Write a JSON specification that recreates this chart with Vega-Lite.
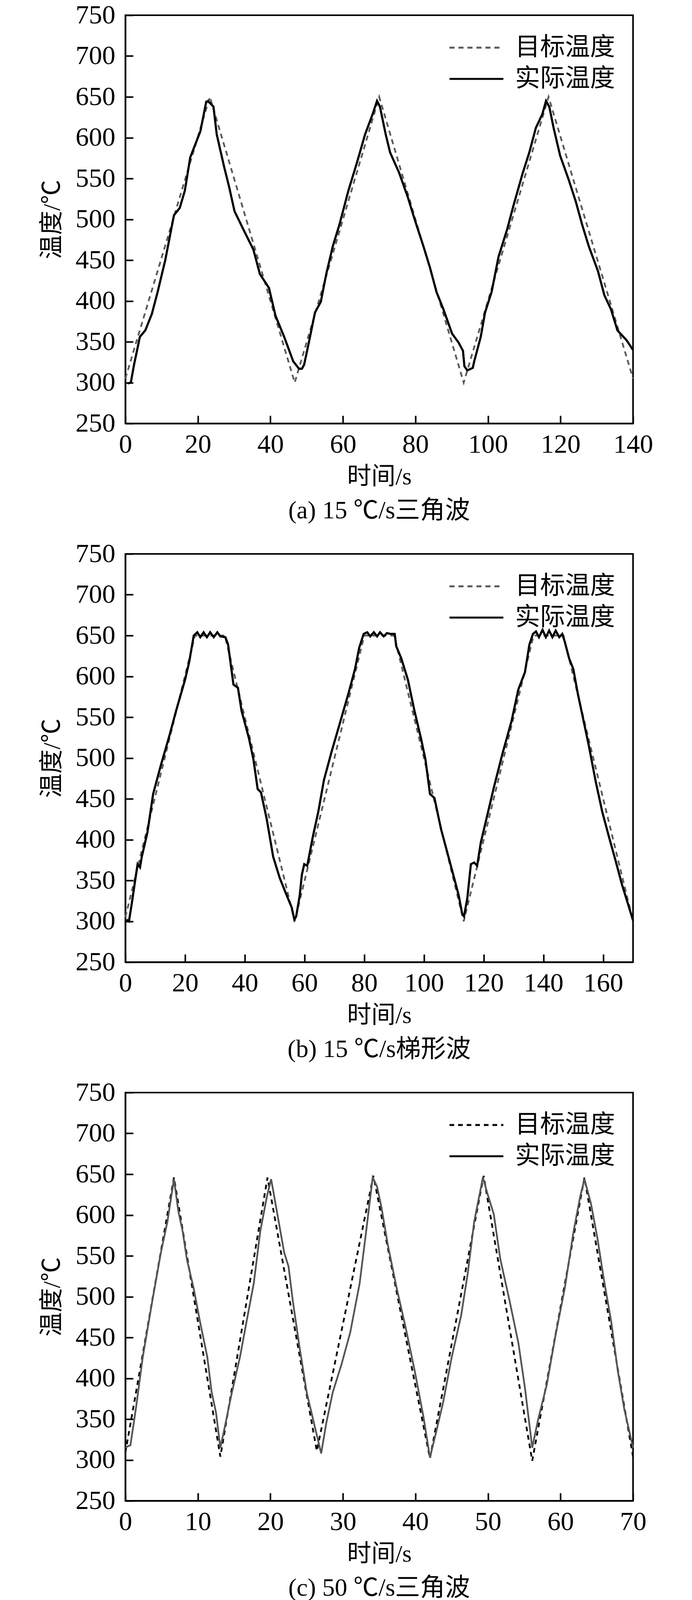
{
  "$schema": "https://vega.github.io/schema/vega-lite/v6.json",
  "description": "Target vs actual temperature for four waveforms",
  "padding": {"left": 100, "top": 3, "right": 0, "bottom": 0},
  "spacing": 40,
  "config": {
    "view": {"stroke": "black", "strokeWidth": 4},
    "axis": {
      "grid": false,
      "domainColor": "black",
      "domainWidth": 4,
      "tickColor": "black",
      "tickWidth": 4,
      "tickSize": -20,
      "labelFont": "Liberation Serif",
      "labelFontSize": 68,
      "labelColor": "black",
      "labelFlush": false,
      "labelOverlap": false,
      "titleFont": "Liberation Serif, Noto Sans CJK SC",
      "titleFontSize": 62,
      "titleFontWeight": "normal",
      "titleColor": "black"
    },
    "axisX": {"labelPadding": 40, "titlePadding": 18},
    "axisY": {"labelPadding": 46, "titlePadding": 28},
    "legend": {
      "orient": "none",
      "legendX": 862,
      "legendY": 46,
      "padding": 0,
      "title": null,
      "labelFont": "Liberation Serif, Noto Sans CJK SC",
      "labelFontSize": 64,
      "labelColor": "black",
      "labelLimit": 400,
      "labelOffset": 62,
      "symbolType": "M-2,0H2",
      "symbolSize": 4761,
      "symbolStrokeWidth": 5,
      "rowPadding": 11
    },
    "title": {
      "orient": "bottom",
      "frame": "group",
      "anchor": "middle",
      "font": "Liberation Serif, Noto Sans CJK SC",
      "fontSize": 64,
      "fontWeight": "normal",
      "color": "black",
      "offset": 25
    }
  },
  "datasets": {
    "a": [
      {"t": 0, "T": 305, "s": "目标温度"}, {"t": 23.3, "T": 650, "s": "目标温度"}, {"t": 46.7, "T": 300, "s": "目标温度"},
      {"t": 70, "T": 650, "s": "目标温度"}, {"t": 93.3, "T": 300, "s": "目标温度"}, {"t": 116.7, "T": 650, "s": "目标温度"},
      {"t": 140, "T": 305, "s": "目标温度"},
      {"t": 0.6, "T": 299, "s": "实际温度"}, {"t": 1.5, "T": 300, "s": "实际温度"}, {"t": 2.4, "T": 322, "s": "实际温度"},
      {"t": 4.0, "T": 356, "s": "实际温度"}, {"t": 5.5, "T": 364, "s": "实际温度"}, {"t": 7.3, "T": 384, "s": "实际温度"},
      {"t": 8.9, "T": 411, "s": "实际温度"}, {"t": 11.0, "T": 450, "s": "实际温度"}, {"t": 13.4, "T": 505, "s": "实际温度"},
      {"t": 15.0, "T": 514, "s": "实际温度"}, {"t": 16.4, "T": 535, "s": "实际温度"}, {"t": 17.9, "T": 576, "s": "实际温度"},
      {"t": 20.7, "T": 608, "s": "实际温度"}, {"t": 22.3, "T": 644, "s": "实际温度"}, {"t": 22.8, "T": 645, "s": "实际温度"},
      {"t": 24.3, "T": 638, "s": "实际温度"}, {"t": 25.2, "T": 604, "s": "实际温度"}, {"t": 27.2, "T": 565, "s": "实际温度"},
      {"t": 28.6, "T": 540, "s": "实际温度"}, {"t": 30.1, "T": 510, "s": "实际温度"}, {"t": 32.5, "T": 488, "s": "实际温度"},
      {"t": 35.3, "T": 463, "s": "实际温度"}, {"t": 37.1, "T": 433, "s": "实际温度"}, {"t": 39.6, "T": 416, "s": "实际温度"},
      {"t": 41.4, "T": 382, "s": "实际温度"}, {"t": 43.8, "T": 356, "s": "实际温度"}, {"t": 46.3, "T": 326, "s": "实际温度"},
      {"t": 47.9, "T": 317, "s": "实际温度"}, {"t": 48.7, "T": 317, "s": "实际温度"}, {"t": 49.3, "T": 322, "s": "实际温度"},
      {"t": 50.5, "T": 347, "s": "实际温度"}, {"t": 52.3, "T": 386, "s": "实际温度"}, {"t": 53.9, "T": 399, "s": "实际温度"},
      {"t": 55.4, "T": 433, "s": "实际温度"}, {"t": 57.2, "T": 467, "s": "实际温度"}, {"t": 59.0, "T": 493, "s": "实际温度"},
      {"t": 61.5, "T": 535, "s": "实际温度"}, {"t": 63.9, "T": 570, "s": "实际温度"}, {"t": 66.1, "T": 604, "s": "实际温度"},
      {"t": 68.2, "T": 629, "s": "实际温度"}, {"t": 69.4, "T": 645, "s": "实际温度"}, {"t": 70.2, "T": 638, "s": "实际温度"},
      {"t": 71.8, "T": 604, "s": "实际温度"}, {"t": 73.0, "T": 582, "s": "实际温度"}, {"t": 75.5, "T": 557, "s": "实际温度"},
      {"t": 77.9, "T": 527, "s": "实际温度"}, {"t": 79.7, "T": 501, "s": "实际温度"}, {"t": 82.2, "T": 467, "s": "实际温度"},
      {"t": 84.0, "T": 441, "s": "实际温度"}, {"t": 85.8, "T": 411, "s": "实际温度"}, {"t": 87.7, "T": 390, "s": "实际温度"},
      {"t": 90.1, "T": 360, "s": "实际温度"}, {"t": 91.9, "T": 349, "s": "实际温度"}, {"t": 93.1, "T": 339, "s": "实际温度"},
      {"t": 93.5, "T": 320, "s": "实际温度"}, {"t": 94.3, "T": 315, "s": "实际温度"}, {"t": 95.8, "T": 318, "s": "实际温度"},
      {"t": 96.2, "T": 326, "s": "实际温度"}, {"t": 98.0, "T": 356, "s": "实际温度"}, {"t": 99.2, "T": 386, "s": "实际温度"},
      {"t": 101.0, "T": 411, "s": "实际温度"}, {"t": 102.9, "T": 454, "s": "实际温度"}, {"t": 105.3, "T": 488, "s": "实际温度"},
      {"t": 107.1, "T": 518, "s": "实际温度"}, {"t": 109.6, "T": 557, "s": "实际温度"}, {"t": 111.4, "T": 582, "s": "实际温度"},
      {"t": 113.2, "T": 612, "s": "实际温度"}, {"t": 115.0, "T": 629, "s": "实际温度"}, {"t": 116.0, "T": 645, "s": "实际温度"},
      {"t": 116.9, "T": 638, "s": "实际温度"}, {"t": 118.1, "T": 612, "s": "实际温度"}, {"t": 119.9, "T": 578, "s": "实际温度"},
      {"t": 122.3, "T": 548, "s": "实际温度"}, {"t": 124.2, "T": 522, "s": "实际温度"}, {"t": 126.0, "T": 493, "s": "实际温度"},
      {"t": 127.8, "T": 467, "s": "实际温度"}, {"t": 130.3, "T": 437, "s": "实际温度"}, {"t": 132.1, "T": 407, "s": "实际温度"},
      {"t": 133.9, "T": 390, "s": "实际温度"}, {"t": 135.7, "T": 364, "s": "实际温度"}, {"t": 138.2, "T": 352, "s": "实际温度"},
      {"t": 140.0, "T": 340, "s": "实际温度"}
    ],
    "b": [
      {"t": 0, "T": 305, "s": "目标温度"}, {"t": 23.3, "T": 650, "s": "目标温度"}, {"t": 33.3, "T": 650, "s": "目标温度"},
      {"t": 56.7, "T": 300, "s": "目标温度"}, {"t": 80, "T": 650, "s": "目标温度"}, {"t": 90, "T": 650, "s": "目标温度"},
      {"t": 113.3, "T": 300, "s": "目标温度"}, {"t": 136.7, "T": 650, "s": "目标温度"}, {"t": 146.7, "T": 650, "s": "目标温度"},
      {"t": 170, "T": 300, "s": "目标温度"},
      {"t": 0.4, "T": 302, "s": "实际温度"}, {"t": 1.2, "T": 300, "s": "实际温度"}, {"t": 2.2, "T": 323, "s": "实际温度"},
      {"t": 3.4, "T": 353, "s": "实际温度"}, {"t": 4.1, "T": 370, "s": "实际温度"}, {"t": 4.9, "T": 366, "s": "实际温度"},
      {"t": 5.5, "T": 379, "s": "实际温度"}, {"t": 7.4, "T": 409, "s": "实际温度"}, {"t": 9.3, "T": 456, "s": "实际温度"},
      {"t": 11.8, "T": 490, "s": "实际温度"}, {"t": 14.8, "T": 528, "s": "实际温度"}, {"t": 17.0, "T": 558, "s": "实际温度"},
      {"t": 20.0, "T": 596, "s": "实际温度"}, {"t": 21.4, "T": 618, "s": "实际温度"}, {"t": 22.9, "T": 650, "s": "实际温度"},
      {"t": 24.1, "T": 654, "s": "实际温度"}, {"t": 25.1, "T": 648, "s": "实际温度"}, {"t": 26.2, "T": 654, "s": "实际温度"},
      {"t": 27.3, "T": 648, "s": "实际温度"}, {"t": 28.4, "T": 654, "s": "实际温度"}, {"t": 29.6, "T": 648, "s": "实际温度"},
      {"t": 30.8, "T": 654, "s": "实际温度"}, {"t": 31.8, "T": 649, "s": "实际温度"}, {"t": 33.5, "T": 648, "s": "实际温度"},
      {"t": 34.4, "T": 639, "s": "实际温度"}, {"t": 35.5, "T": 609, "s": "实际温度"}, {"t": 36.2, "T": 590, "s": "实际温度"},
      {"t": 37.7, "T": 586, "s": "实际温度"}, {"t": 38.9, "T": 558, "s": "实际温度"}, {"t": 41.4, "T": 524, "s": "实际温度"},
      {"t": 42.9, "T": 498, "s": "实际温度"}, {"t": 44.3, "T": 462, "s": "实际温度"}, {"t": 45.4, "T": 458, "s": "实际温度"},
      {"t": 47.3, "T": 426, "s": "实际温度"}, {"t": 49.5, "T": 379, "s": "实际温度"}, {"t": 51.7, "T": 353, "s": "实际温度"},
      {"t": 54.0, "T": 332, "s": "实际温度"}, {"t": 55.7, "T": 317, "s": "实际温度"}, {"t": 56.6, "T": 302, "s": "实际温度"},
      {"t": 57.2, "T": 306, "s": "实际温度"}, {"t": 58.4, "T": 332, "s": "实际温度"}, {"t": 59.1, "T": 357, "s": "实际温度"},
      {"t": 59.9, "T": 370, "s": "实际温度"}, {"t": 60.9, "T": 368, "s": "实际温度"}, {"t": 62.8, "T": 404, "s": "实际温度"},
      {"t": 64.6, "T": 434, "s": "实际温度"}, {"t": 66.5, "T": 473, "s": "实际温度"}, {"t": 69.0, "T": 507, "s": "实际温度"},
      {"t": 71.7, "T": 541, "s": "实际温度"}, {"t": 74.7, "T": 579, "s": "实际温度"}, {"t": 76.9, "T": 609, "s": "实际温度"},
      {"t": 78.3, "T": 635, "s": "实际温度"}, {"t": 79.8, "T": 652, "s": "实际温度"}, {"t": 81.0, "T": 654, "s": "实际温度"},
      {"t": 82.0, "T": 649, "s": "实际温度"}, {"t": 83.2, "T": 654, "s": "实际温度"}, {"t": 84.3, "T": 649, "s": "实际温度"},
      {"t": 85.3, "T": 654, "s": "实际温度"}, {"t": 86.5, "T": 649, "s": "实际温度"}, {"t": 87.6, "T": 653, "s": "实际温度"},
      {"t": 88.7, "T": 652, "s": "实际温度"}, {"t": 90.2, "T": 652, "s": "实际温度"}, {"t": 90.7, "T": 637, "s": "实际温度"},
      {"t": 92.4, "T": 622, "s": "实际温度"}, {"t": 94.6, "T": 596, "s": "实际温度"}, {"t": 96.8, "T": 558, "s": "实际温度"},
      {"t": 99.0, "T": 524, "s": "实际温度"}, {"t": 100.5, "T": 498, "s": "实际温度"}, {"t": 102.0, "T": 456, "s": "实际温度"},
      {"t": 103.5, "T": 451, "s": "实际温度"}, {"t": 105.7, "T": 413, "s": "实际温度"}, {"t": 107.9, "T": 383, "s": "实际温度"},
      {"t": 110.1, "T": 353, "s": "实际温度"}, {"t": 111.6, "T": 332, "s": "实际温度"}, {"t": 112.8, "T": 309, "s": "实际温度"},
      {"t": 113.4, "T": 306, "s": "实际温度"}, {"t": 114.5, "T": 328, "s": "实际温度"}, {"t": 115.7, "T": 370, "s": "实际温度"},
      {"t": 116.8, "T": 372, "s": "实际温度"}, {"t": 117.8, "T": 368, "s": "实际温度"}, {"t": 119.0, "T": 396, "s": "实际温度"},
      {"t": 121.2, "T": 430, "s": "实际温度"}, {"t": 123.4, "T": 464, "s": "实际温度"}, {"t": 126.4, "T": 507, "s": "实际温度"},
      {"t": 129.3, "T": 545, "s": "实际温度"}, {"t": 131.6, "T": 584, "s": "实际温度"}, {"t": 133.8, "T": 605, "s": "实际温度"},
      {"t": 135.3, "T": 639, "s": "实际温度"}, {"t": 136.5, "T": 652, "s": "实际温度"}, {"t": 137.5, "T": 655, "s": "实际温度"},
      {"t": 138.5, "T": 648, "s": "实际温度"}, {"t": 139.7, "T": 657, "s": "实际温度"}, {"t": 140.8, "T": 648, "s": "实际温度"},
      {"t": 141.9, "T": 656, "s": "实际温度"}, {"t": 143.0, "T": 648, "s": "实际温度"}, {"t": 144.1, "T": 656, "s": "实际温度"},
      {"t": 145.3, "T": 648, "s": "实际温度"}, {"t": 146.3, "T": 652, "s": "实际温度"}, {"t": 147.1, "T": 643, "s": "实际温度"},
      {"t": 148.6, "T": 622, "s": "实际温度"}, {"t": 150.0, "T": 609, "s": "实际温度"}, {"t": 151.5, "T": 579, "s": "实际温度"},
      {"t": 153.7, "T": 541, "s": "实际温度"}, {"t": 155.2, "T": 515, "s": "实际温度"}, {"t": 157.4, "T": 473, "s": "实际温度"},
      {"t": 159.7, "T": 434, "s": "实际温度"}, {"t": 161.9, "T": 404, "s": "实际温度"}, {"t": 164.1, "T": 375, "s": "实际温度"},
      {"t": 166.3, "T": 345, "s": "实际温度"}, {"t": 168.5, "T": 319, "s": "实际温度"}, {"t": 170.0, "T": 301, "s": "实际温度"}
    ],
    "c": [
      {"t": 0, "T": 309, "s": "目标温度"}, {"t": 6.7, "T": 646, "s": "目标温度"}, {"t": 13.1, "T": 304, "s": "目标温度"},
      {"t": 19.6, "T": 646, "s": "目标温度"}, {"t": 26.4, "T": 311, "s": "目标温度"}, {"t": 34.2, "T": 648, "s": "目标温度"},
      {"t": 42.0, "T": 302, "s": "目标温度"}, {"t": 49.4, "T": 648, "s": "目标温度"}, {"t": 56.1, "T": 299, "s": "目标温度"},
      {"t": 63.3, "T": 646, "s": "目标温度"}, {"t": 70, "T": 304, "s": "目标温度"},
      {"t": 0, "T": 315, "s": "实际温度"}, {"t": 0.4, "T": 317, "s": "实际温度"}, {"t": 0.7, "T": 318, "s": "实际温度"},
      {"t": 1.5, "T": 366, "s": "实际温度"}, {"t": 2.4, "T": 426, "s": "实际温度"}, {"t": 3.7, "T": 494, "s": "实际温度"},
      {"t": 4.9, "T": 554, "s": "实际温度"}, {"t": 5.8, "T": 592, "s": "实际温度"}, {"t": 6.7, "T": 644, "s": "实际温度"},
      {"t": 7.3, "T": 605, "s": "实际温度"}, {"t": 7.9, "T": 580, "s": "实际温度"}, {"t": 8.5, "T": 545, "s": "实际温度"},
      {"t": 9.4, "T": 511, "s": "实际温度"}, {"t": 10.3, "T": 469, "s": "实际温度"}, {"t": 11.3, "T": 426, "s": "实际温度"},
      {"t": 11.9, "T": 383, "s": "实际温度"}, {"t": 12.5, "T": 358, "s": "实际温度"}, {"t": 13.1, "T": 315, "s": "实际温度"},
      {"t": 13.7, "T": 340, "s": "实际温度"}, {"t": 14.6, "T": 379, "s": "实际温度"}, {"t": 15.8, "T": 426, "s": "实际温度"},
      {"t": 16.7, "T": 469, "s": "实际温度"}, {"t": 17.7, "T": 516, "s": "实际温度"}, {"t": 18.6, "T": 580, "s": "实际温度"},
      {"t": 19.5, "T": 622, "s": "实际温度"}, {"t": 20.1, "T": 644, "s": "实际温度"}, {"t": 20.7, "T": 614, "s": "实际温度"},
      {"t": 21.3, "T": 584, "s": "实际温度"}, {"t": 21.9, "T": 554, "s": "实际温度"}, {"t": 22.5, "T": 537, "s": "实际温度"},
      {"t": 23.1, "T": 494, "s": "实际温度"}, {"t": 24.0, "T": 439, "s": "实际温度"}, {"t": 25.0, "T": 383, "s": "实际温度"},
      {"t": 25.9, "T": 349, "s": "实际温度"}, {"t": 27.0, "T": 308, "s": "实际温度"}, {"t": 27.7, "T": 345, "s": "实际温度"},
      {"t": 28.6, "T": 383, "s": "实际温度"}, {"t": 29.8, "T": 417, "s": "实际温度"}, {"t": 31.0, "T": 456, "s": "实际温度"},
      {"t": 32.3, "T": 516, "s": "实际温度"}, {"t": 33.2, "T": 580, "s": "实际温度"}, {"t": 34.1, "T": 646, "s": "实际温度"},
      {"t": 34.7, "T": 635, "s": "实际温度"}, {"t": 35.3, "T": 610, "s": "实际温度"}, {"t": 36.2, "T": 563, "s": "实际温度"},
      {"t": 37.4, "T": 511, "s": "实际温度"}, {"t": 38.7, "T": 460, "s": "实际温度"}, {"t": 39.9, "T": 409, "s": "实际温度"},
      {"t": 41.1, "T": 353, "s": "实际温度"}, {"t": 42.0, "T": 303, "s": "实际温度"}, {"t": 42.9, "T": 336, "s": "实际温度"},
      {"t": 43.8, "T": 370, "s": "实际温度"}, {"t": 45.0, "T": 426, "s": "实际温度"}, {"t": 46.3, "T": 477, "s": "实际温度"},
      {"t": 47.2, "T": 528, "s": "实际温度"}, {"t": 48.1, "T": 592, "s": "实际温度"}, {"t": 49.3, "T": 646, "s": "实际温度"},
      {"t": 49.9, "T": 627, "s": "实际温度"}, {"t": 50.8, "T": 601, "s": "实际温度"}, {"t": 51.7, "T": 546, "s": "实际温度"},
      {"t": 53.0, "T": 494, "s": "实际温度"}, {"t": 54.2, "T": 443, "s": "实际温度"}, {"t": 55.1, "T": 388, "s": "实际温度"},
      {"t": 56.1, "T": 315, "s": "实际温度"}, {"t": 56.9, "T": 349, "s": "实际温度"}, {"t": 58.1, "T": 392, "s": "实际温度"},
      {"t": 59.3, "T": 452, "s": "实际温度"}, {"t": 60.6, "T": 511, "s": "实际温度"}, {"t": 61.8, "T": 580, "s": "实际温度"},
      {"t": 62.7, "T": 622, "s": "实际温度"}, {"t": 63.3, "T": 644, "s": "实际温度"}, {"t": 64.2, "T": 614, "s": "实际温度"},
      {"t": 65.1, "T": 571, "s": "实际温度"}, {"t": 66.0, "T": 520, "s": "实际温度"}, {"t": 67.0, "T": 469, "s": "实际温度"},
      {"t": 67.9, "T": 409, "s": "实际温度"}, {"t": 68.8, "T": 362, "s": "实际温度"}, {"t": 70.0, "T": 315, "s": "实际温度"}
    ],
    "d": [
      {"t": 0, "T": 304, "s": "目标温度"}, {"t": 2.9, "T": 647, "s": "目标温度"}, {"t": 6.6, "T": 304, "s": "目标温度"},
      {"t": 10.2, "T": 649, "s": "目标温度"}, {"t": 13.7, "T": 304, "s": "目标温度"}, {"t": 17.6, "T": 649, "s": "目标温度"},
      {"t": 21.0, "T": 304, "s": "目标温度"}, {"t": 24.6, "T": 649, "s": "目标温度"}, {"t": 28.0, "T": 304, "s": "目标温度"},
      {"t": 31.7, "T": 649, "s": "目标温度"}, {"t": 35.2, "T": 302, "s": "目标温度"}, {"t": 38.7, "T": 649, "s": "目标温度"},
      {"t": 42.5, "T": 300, "s": "目标温度"}, {"t": 45.9, "T": 647, "s": "目标温度"}, {"t": 50.0, "T": 304, "s": "目标温度"},
      {"t": 0, "T": 304, "s": "实际温度"}, {"t": 0.3, "T": 317, "s": "实际温度"}, {"t": 0.7, "T": 376, "s": "实际温度"},
      {"t": 1.3, "T": 453, "s": "实际温度"}, {"t": 1.7, "T": 517, "s": "实际温度"}, {"t": 2.4, "T": 555, "s": "实际温度"},
      {"t": 3.0, "T": 607, "s": "实际温度"}, {"t": 3.6, "T": 656, "s": "实际温度"}, {"t": 4.1, "T": 615, "s": "实际温度"},
      {"t": 4.7, "T": 555, "s": "实际温度"}, {"t": 5.2, "T": 462, "s": "实际温度"}, {"t": 5.9, "T": 402, "s": "实际温度"},
      {"t": 6.6, "T": 342, "s": "实际温度"}, {"t": 7.3, "T": 300, "s": "实际温度"}, {"t": 7.8, "T": 350, "s": "实际温度"},
      {"t": 8.3, "T": 406, "s": "实际温度"}, {"t": 8.8, "T": 487, "s": "实际温度"}, {"t": 9.6, "T": 551, "s": "实际温度"},
      {"t": 10.1, "T": 611, "s": "实际温度"}, {"t": 10.4, "T": 651, "s": "实际温度"}, {"t": 10.7, "T": 647, "s": "实际温度"},
      {"t": 11.2, "T": 619, "s": "实际温度"}, {"t": 11.6, "T": 543, "s": "实际温度"}, {"t": 12.2, "T": 470, "s": "实际温度"},
      {"t": 12.6, "T": 411, "s": "实际温度"}, {"t": 13.3, "T": 368, "s": "实际温度"}, {"t": 13.9, "T": 325, "s": "实际温度"},
      {"t": 14.5, "T": 304, "s": "实际温度"}, {"t": 15.0, "T": 350, "s": "实际温度"}, {"t": 15.7, "T": 423, "s": "实际温度"},
      {"t": 16.3, "T": 517, "s": "实际温度"}, {"t": 17.0, "T": 573, "s": "实际温度"}, {"t": 17.8, "T": 653, "s": "实际温度"},
      {"t": 18.4, "T": 607, "s": "实际温度"}, {"t": 18.8, "T": 547, "s": "实际温度"}, {"t": 19.3, "T": 479, "s": "实际温度"},
      {"t": 19.9, "T": 411, "s": "实际温度"}, {"t": 20.7, "T": 368, "s": "实际温度"}, {"t": 21.4, "T": 300, "s": "实际温度"},
      {"t": 22.0, "T": 325, "s": "实际温度"}, {"t": 22.6, "T": 419, "s": "实际温度"}, {"t": 23.5, "T": 504, "s": "实际温度"},
      {"t": 24.1, "T": 568, "s": "实际温度"}, {"t": 25.0, "T": 651, "s": "实际温度"}, {"t": 25.4, "T": 615, "s": "实际温度"},
      {"t": 26.1, "T": 538, "s": "实际温度"}, {"t": 26.7, "T": 470, "s": "实际温度"}, {"t": 27.4, "T": 411, "s": "实际温度"},
      {"t": 28.0, "T": 346, "s": "实际温度"}, {"t": 28.6, "T": 300, "s": "实际温度"}, {"t": 29.1, "T": 342, "s": "实际温度"},
      {"t": 29.8, "T": 428, "s": "实际温度"}, {"t": 30.4, "T": 504, "s": "实际温度"}, {"t": 31.3, "T": 568, "s": "实际温度"},
      {"t": 32.2, "T": 653, "s": "实际温度"}, {"t": 32.6, "T": 615, "s": "实际温度"}, {"t": 33.3, "T": 530, "s": "实际温度"},
      {"t": 33.9, "T": 445, "s": "实际温度"}, {"t": 34.6, "T": 376, "s": "实际温度"}, {"t": 35.2, "T": 325, "s": "实际温度"},
      {"t": 35.7, "T": 297, "s": "实际温度"}, {"t": 36.1, "T": 317, "s": "实际温度"}, {"t": 36.7, "T": 389, "s": "实际温度"},
      {"t": 37.4, "T": 504, "s": "实际温度"}, {"t": 38.0, "T": 555, "s": "实际温度"}, {"t": 39.2, "T": 649, "s": "实际温度"},
      {"t": 39.6, "T": 637, "s": "实际温度"}, {"t": 40.2, "T": 555, "s": "实际温度"}, {"t": 40.9, "T": 462, "s": "实际温度"},
      {"t": 41.7, "T": 398, "s": "实际温度"}, {"t": 42.7, "T": 297, "s": "实际温度"}, {"t": 43.3, "T": 317, "s": "实际温度"},
      {"t": 43.9, "T": 394, "s": "实际温度"}, {"t": 44.6, "T": 470, "s": "实际温度"}, {"t": 45.4, "T": 555, "s": "实际温度"},
      {"t": 46.4, "T": 650, "s": "实际温度"}, {"t": 47.0, "T": 607, "s": "实际温度"}, {"t": 47.4, "T": 538, "s": "实际温度"},
      {"t": 48.0, "T": 453, "s": "实际温度"}, {"t": 48.7, "T": 385, "s": "实际温度"}, {"t": 49.3, "T": 342, "s": "实际温度"},
      {"t": 50.0, "T": 304, "s": "实际温度"}
    ]
  },
  "vconcat": [
    {
      "width": 1300, "height": 1045,
      "title": "(a) 15 ℃/s三角波",
      "data": {"name": "a"},
      "encoding": {
        "x": {"field": "t", "type": "quantitative", "title": "时间/s", "scale": {"domain": [0, 140], "nice": false}, "axis": {"values": [0, 20, 40, 60, 80, 100, 120, 140]}},
        "y": {"field": "T", "type": "quantitative", "title": "温度/℃", "scale": {"domain": [250, 750], "nice": false}, "axis": {"values": [250, 300, 350, 400, 450, 500, 550, 600, 650, 700, 750]}},
        "color": {"field": "s", "type": "nominal", "scale": {"domain": ["目标温度", "实际温度"], "range": ["#5a5a5a", "#000000"]}},
        "strokeDash": {"field": "s", "type": "nominal", "scale": {"domain": ["目标温度", "实际温度"], "range": [[13, 10], [1, 0]]}}
      },
      "layer": [
        {"transform": [{"filter": "datum.s === '目标温度'"}], "mark": {"type": "line", "strokeWidth": 4.5}},
        {"transform": [{"filter": "datum.s === '实际温度'"}], "mark": {"type": "line", "strokeWidth": 5.5}}
      ]
    },
    {
      "width": 1300, "height": 1045,
      "title": "(b) 15 ℃/s梯形波",
      "data": {"name": "b"},
      "encoding": {
        "x": {"field": "t", "type": "quantitative", "title": "时间/s", "scale": {"domain": [0, 170], "nice": false}, "axis": {"values": [0, 20, 40, 60, 80, 100, 120, 140, 160]}},
        "y": {"field": "T", "type": "quantitative", "title": "温度/℃", "scale": {"domain": [250, 750], "nice": false}, "axis": {"values": [250, 300, 350, 400, 450, 500, 550, 600, 650, 700, 750]}},
        "color": {"field": "s", "type": "nominal", "scale": {"domain": ["目标温度", "实际温度"], "range": ["#5a5a5a", "#000000"]}},
        "strokeDash": {"field": "s", "type": "nominal", "scale": {"domain": ["目标温度", "实际温度"], "range": [[13, 10], [1, 0]]}}
      },
      "layer": [
        {"transform": [{"filter": "datum.s === '目标温度'"}], "mark": {"type": "line", "strokeWidth": 4.5}},
        {"transform": [{"filter": "datum.s === '实际温度'"}], "mark": {"type": "line", "strokeWidth": 5.5}}
      ]
    },
    {
      "width": 1300, "height": 1045,
      "title": "(c) 50 ℃/s三角波",
      "data": {"name": "c"},
      "encoding": {
        "x": {"field": "t", "type": "quantitative", "title": "时间/s", "scale": {"domain": [0, 70], "nice": false}, "axis": {"values": [0, 10, 20, 30, 40, 50, 60, 70]}},
        "y": {"field": "T", "type": "quantitative", "title": "温度/℃", "scale": {"domain": [250, 750], "nice": false}, "axis": {"values": [250, 300, 350, 400, 450, 500, 550, 600, 650, 700, 750]}},
        "strokeDash": {
          "field": "s", "type": "nominal",
          "scale": {"domain": ["目标温度", "实际温度"], "range": [[12, 10], [1, 0]]},
          "legend": {"encode": {"symbols": {"update": {"stroke": {"signal": "datum.value === '目标温度' ? '#5a5a5a' : '#000000'"}}}}}
        }
      },
      "layer": [
        {"transform": [{"filter": "datum.s === '目标温度'"}], "mark": {"type": "line", "strokeWidth": 4.5, "color": "#000000"}},
        {"transform": [{"filter": "datum.s === '实际温度'"}], "mark": {"type": "line", "strokeWidth": 4.5, "color": "#555555"}}
      ]
    },
    {
      "width": 1300, "height": 1045,
      "title": "(d) 100 ℃/s三角波",
      "data": {"name": "d"},
      "encoding": {
        "x": {"field": "t", "type": "quantitative", "title": "时间/s", "scale": {"domain": [0, 50], "nice": false}, "axis": {"values": [0, 5, 10, 15, 20, 25, 30, 35, 40, 45, 50]}},
        "y": {"field": "T", "type": "quantitative", "title": "温度/℃", "scale": {"domain": [250, 750], "nice": false}, "axis": {"values": [250, 300, 350, 400, 450, 500, 550, 600, 650, 700, 750]}},
        "color": {"field": "s", "type": "nominal", "scale": {"domain": ["目标温度", "实际温度"], "range": ["#5a5a5a", "#000000"]}},
        "strokeDash": {"field": "s", "type": "nominal", "scale": {"domain": ["目标温度", "实际温度"], "range": [[13, 10], [1, 0]]}}
      },
      "layer": [
        {"transform": [{"filter": "datum.s === '目标温度'"}], "mark": {"type": "line", "strokeWidth": 4.5}},
        {"transform": [{"filter": "datum.s === '实际温度'"}], "mark": {"type": "line", "strokeWidth": 5.5}}
      ]
    }
  ],
  "resolve": {"scale": {"x": "independent", "color": "independent", "strokeDash": "independent"}, "legend": {"color": "independent", "strokeDash": "independent"}}
}
